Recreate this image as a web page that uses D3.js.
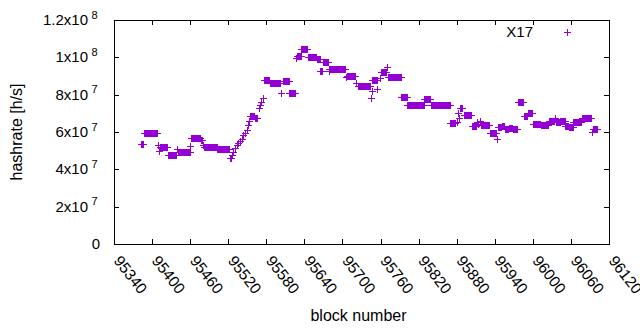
<!DOCTYPE html>
<html><head><meta charset="utf-8">
<script src="https://cdn.jsdelivr.net/npm/d3@7"></script>
<style>body{margin:0;background:#fff}svg{display:block}text{font-family:"Liberation Sans",Arial,sans-serif;fill:#000}</style>
</head><body>
<svg id="c" width="640" height="330"></svg>
<script>
// Runs of blocks sharing one hashrate estimate (first block, last block, hashrate in 1e7 h/s)
const runStart = [95383,95388,95409,95411,95413,95425,95439,95441,95460,95461,95477,95480,95482,95503,95522,95524,95526,95528,95531,95534,95536,95539,95541,95544,95546,95549,95551,95553,95555,95562,95568,95570,95572,95574,95577,95586,95603,95607,95616,95627,95628,95635,95645,95660,95665,95669,95678,95679,95706,95707,95721,95725,95745,95746,95747,95755,95759,95760,95770,95772,95793,95802,95829,95839,95870,95880,95882,95883,95885,95891,95904,95912,95914,95916,95918,95919,95932,95943,95945,95951,95956,95962,95968,95977,95986,95992,96001,96013,96026,96035,96036,96043,96051,96057,96064,96077,96093,96094];
const runEnd   = [95386,95408,95409,95411,95424,95438,95439,95459,95460,95476,95479,95480,95502,95521,95522,95524,95526,95528,95531,95534,95536,95539,95541,95544,95546,95549,95551,95553,95561,95566,95568,95570,95572,95574,95585,95602,95603,95615,95625,95627,95634,95644,95659,95664,95668,95677,95678,95704,95706,95720,95721,95744,95745,95746,95754,95755,95759,95768,95770,95792,95801,95828,95838,95870,95877,95880,95882,95883,95889,95903,95911,95912,95914,95916,95918,95931,95942,95943,95950,95955,95961,95967,95975,95985,95991,95999,96012,96024,96034,96035,96042,96050,96056,96063,96076,96092,96093,96101];
const runValue = [5.35,5.92,5.30,4.98,5.18,4.77,5.07,4.91,5.27,5.70,5.58,5.30,5.18,5.07,4.62,4.60,4.77,4.94,5.15,5.30,5.39,5.50,5.65,5.84,5.93,6.10,6.37,6.59,6.86,6.73,7.30,7.45,7.60,7.80,8.77,8.65,8.07,8.73,8.09,9.98,10.05,10.43,10.00,9.90,9.27,9.73,9.27,9.36,8.96,9.01,8.60,8.46,7.80,8.20,8.78,8.30,8.90,9.20,9.46,8.96,7.86,7.45,7.75,7.45,6.46,6.55,7.00,6.73,7.27,6.91,6.32,6.55,6.45,6.60,6.45,6.37,5.95,5.60,6.25,6.32,6.15,6.22,6.15,7.59,6.84,7.00,6.42,6.35,6.59,6.73,6.53,6.59,6.32,6.25,6.55,6.77,6.00,6.14];
const seriesName = "X17";
const xTicks = [95340,95400,95460,95520,95580,95640,95700,95760,95820,95880,95940,96000,96060,96120];
const yTicks = [0,2e7,4e7,6e7,8e7,1e8,1.2e8];
const yTickMantissa = ["0","2x10","4x10","6x10","8x10","1x10","1.2x10"];
const yTickExponent = ["","7","7","7","7","8","8"];
const xTitle = "block number";
const yTitle = "hashrate [h/s]";

const color = "#9400d3";
const L = 114, R = 609, T = 20, B = 244;
const svg = d3.select("#c");
const x = d3.scaleLinear().domain([95340, 96120]).range([L, R]);
const y = d3.scaleLinear().domain([0, 1.2e8]).range([B, T]);

// points: one per block inside each run
const pts = [];
runStart.forEach((s, i) => {
  for (let b = s; b <= runEnd[i]; b++) pts.push({b: b, v: runValue[i] * 1e7});
});

const tl = 5;
// axes (ticks inward, mirrored)
const gx = svg.append("g").attr("transform", `translate(0,${B})`)
  .call(d3.axisBottom(x).tickValues(xTicks).tickSizeInner(-tl).tickSizeOuter(0).tickFormat(""));
const gx2 = svg.append("g").attr("transform", `translate(0,${T})`)
  .call(d3.axisTop(x).tickValues(xTicks).tickSizeInner(-tl).tickSizeOuter(0).tickFormat(""));
const gy = svg.append("g").attr("transform", `translate(${L},0)`)
  .call(d3.axisLeft(y).tickValues(yTicks).tickSizeInner(-tl).tickSizeOuter(0).tickFormat(""));
const gy2 = svg.append("g").attr("transform", `translate(${R},0)`)
  .call(d3.axisRight(y).tickValues(yTicks).tickSizeInner(-tl).tickSizeOuter(0).tickFormat(""));
[gx,gx2,gy,gy2].forEach(g => {
  g.select(".domain").remove();
  g.selectAll("line").attr("stroke", "#000").attr("shape-rendering", "crispEdges");
});
svg.append("rect").attr("x", L).attr("y", T).attr("width", R - L).attr("height", B - T)
  .attr("fill", "none").attr("stroke", "#000").attr("shape-rendering", "crispEdges");

// y tick labels
yTicks.forEach((t, i) => {
  const yy = y(t) + 5;
  if (yTickExponent[i]) {
    svg.append("text").attr("x", 88).attr("y", yy).attr("text-anchor", "end")
      .attr("font-size", 15).text(yTickMantissa[i]);
    svg.append("text").attr("x", 91.5).attr("y", yy - 6.5).attr("text-anchor", "start")
      .attr("font-size", 11).text(yTickExponent[i]);
  } else {
    svg.append("text").attr("x", 100).attr("y", yy).attr("text-anchor", "end")
      .attr("font-size", 15).text(yTickMantissa[i]);
  }
});
// x tick labels, rotated
xTicks.forEach(t => {
  svg.append("text").attr("transform", `translate(${x(t) - 1},${B + 17}) rotate(52)`)
    .attr("text-anchor", "start").attr("font-size", 15.5).text(String(t));
});
// titles
svg.append("text").attr("x", (L + R) / 2 - 3).attr("y", 321).attr("text-anchor", "middle")
  .attr("font-size", 16).text(xTitle);
svg.append("text").attr("transform", `translate(22,${(T + B) / 2}) rotate(-90)`)
  .attr("text-anchor", "middle").attr("font-size", 16).text(yTitle);

// points
const cross = (px, py, h) => `M${px - h},${py}H${px + h}M${px},${py - h}V${py + h}`;
svg.append("g").selectAll("path").data(pts).join("path")
  .attr("d", d => cross(Math.round(x(d.b)) + 0.5, Math.round(y(d.v)) + 0.5, 3.5))
  .attr("stroke", color).attr("stroke-width", 1).attr("fill", "none");

// legend
svg.append("text").attr("x", 533).attr("y", 37).attr("text-anchor", "end")
  .attr("font-size", 15).text(seriesName);
svg.append("path").attr("d", cross(567.5, 32.5, 3.5)).attr("stroke", color)
  .attr("stroke-width", 1).attr("fill", "none");
</script>
</body></html>
